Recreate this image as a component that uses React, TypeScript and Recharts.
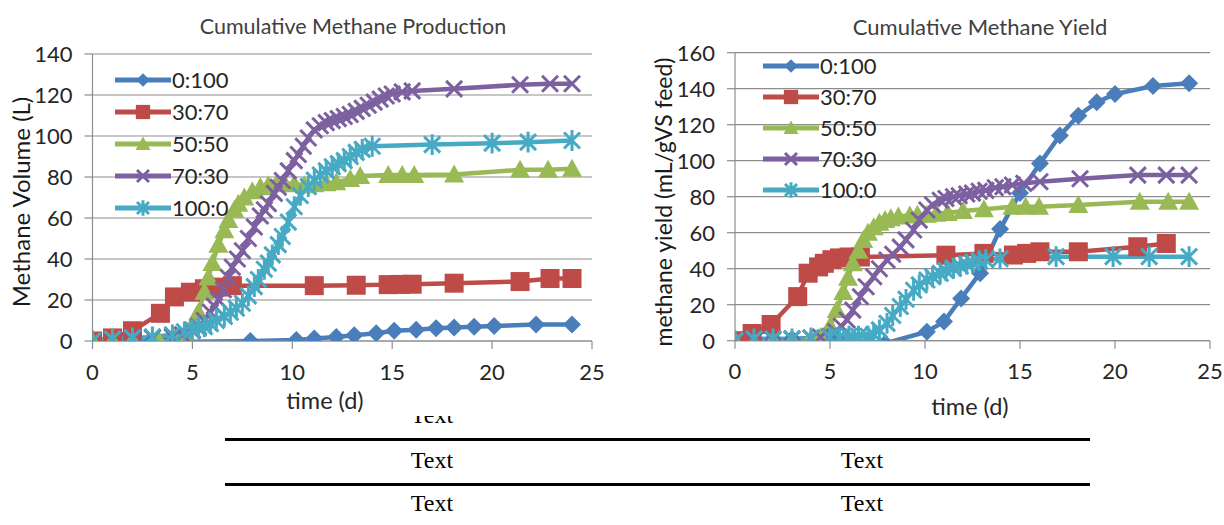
import React from 'react';
import { LineChart, Line, XAxis, YAxis, CartesianGrid, Legend } from 'recharts';

// ---------- shared labels ----------
const seriesNames = ['0:100', '30:70', '50:50', '70:30', '100:0'];
const seriesColors = ['#4A7EBB', '#BE4B48', '#98B954', '#7D60A0', '#46AAC5'];
const seriesShapes = ['diamond', 'square', 'triangle', 'cross', 'star'];
const xTicks = [0, 5, 10, 15, 20, 25];
const volTicks = [0, 20, 40, 60, 80, 100, 120, 140];
const yieldTicks = [0, 20, 40, 60, 80, 100, 120, 140, 160];
const tableRows = [['Text', ''], ['Text', 'Text'], ['Text', 'Text']];

// ---------- Cumulative Methane Production (L) ----------
const vol0_100_d = [0, 1, 2, 3, 4.1, 7.9, 10.2, 11.1, 12.2, 13.1, 14.2, 15.1, 16.2, 17.2, 18.1, 19.1, 20.1, 22.2, 24];
const vol0_100_v = [0, 0, 0, 0, -0.5, 0, 0.5, 1.2, 2, 2.8, 3.8, 5, 5.5, 6.2, 6.6, 7, 7.3, 8.1, 8.1];
const vol30_70_d = [0, 1, 2, 3.4, 4.1, 4.9, 5.6, 6.3, 7.0, 11.1, 13.2, 14.8, 15.4, 16.0, 18.1, 21.4, 22.9, 24];
const vol30_70_v = [0, 1.5, 5, 13.5, 21.5, 23.8, 25.5, 26.3, 27, 27, 27.2, 27.5, 27.6, 27.7, 28.2, 29, 30.5, 30.5];
const vol50_50_d = [0, 1, 2, 3.3, 4.1, 4.6, 5.0, 5.3, 5.6, 5.8, 6.0, 6.3, 6.6, 6.8, 7.1, 7.3, 7.6, 8.0, 8.4, 8.8, 9.2, 9.6, 10.1, 10.6, 11.1, 11.7, 12.2, 12.9, 13.4, 14.8, 15.5, 16.1, 18.1, 21.4, 22.8, 24];
const vol50_50_v = [0, 0, 0.2, 0.5, 1, 3, 8, 14, 24, 31, 38, 47, 54, 59, 64, 67, 70, 73, 75, 76, 76.5, 77, 76.5, 76, 76.5, 77, 77.5, 79, 80.5, 81, 81, 81, 81.2, 83.5, 83.5, 84];
const vol70_30_d = [0, 1, 2, 3, 4, 4.5, 5.0, 5.3, 5.6, 5.9, 6.1, 6.3, 6.55, 6.8, 7.0, 7.25, 7.5, 7.8, 8.1, 8.4, 8.6, 8.8, 9.1, 9.3, 9.5, 9.8, 10.1, 10.3, 10.55, 10.8, 11.1, 11.4, 11.7, 12.0, 12.3, 12.6, 12.9, 13.2, 13.5, 13.8, 14.1, 14.4, 14.7, 15.0, 15.5, 16.0, 18.1, 21.4, 22.9, 24];
const vol70_30_v = [0, 0.5, 1, 1.5, 2, 3, 5, 7, 10, 14, 17, 20, 25, 31, 36, 40, 44, 50, 55.6, 61, 64, 67, 72, 75, 78.3, 83, 88, 91, 95, 99, 103, 105, 106.5, 107.5, 108.5, 109.5, 110.5, 112, 113.5, 115, 116.5, 118, 119.5, 120.5, 121.5, 122, 123, 125, 125.5, 125.5];
const vol100_0_d = [0, 1, 2, 3, 4, 4.6, 5.0, 5.3, 5.6, 5.9, 6.2, 6.6, 6.9, 7.2, 7.5, 7.8, 8.1, 8.3, 8.6, 8.8, 9.0, 9.3, 9.5, 9.8, 10.1, 10.4, 10.8, 11.1, 11.4, 11.7, 12.0, 12.3, 12.6, 12.9, 13.2, 13.5, 14.0, 17.0, 20.0, 21.8, 24];
const vol100_0_v = [0, 1, 1.5, 2, 3, 4.5, 5.5, 6.3, 7, 8.5, 10, 12, 14, 16, 18.4, 22, 26.5, 30, 35, 38, 42, 47, 51, 58, 65.5, 71, 75.3, 78.5, 81, 83, 85, 86.5, 88, 90, 92, 93.5, 95, 95.8, 96.5, 97, 97.8];

// ---------- Cumulative Methane Yield (mL/gVS feed) ----------
const yld0_100_d = [0, 1, 2, 3, 4.1, 5, 7.9, 10.1, 11.0, 11.9, 12.9, 13.95, 15.0, 16.05, 17.1, 18.07, 19.04, 20.0, 22.0, 23.9];
const yld0_100_v = [0, 1, 1, 1, -3, 1, -1.5, 5, 10.6, 23.5, 37.5, 62, 82, 98.5, 114, 125, 132.5, 137, 141.5, 143];
const yld30_70_d = [0, 0.9, 1.9, 3.3, 3.85, 4.4, 4.7, 5.1, 5.5, 6.0, 6.6, 11.1, 13.1, 14.65, 15.35, 16.05, 18.07, 21.2, 22.7];
const yld30_70_v = [0, 4, 9, 24.5, 37.5, 41, 43, 45, 46, 46.5, 46.5, 47.5, 48.5, 47.6, 48.5, 49.4, 49.4, 52.2, 54];
const yld50_50_d = [0, 1, 2, 3, 4, 4.5, 5.0, 5.35, 5.7, 5.95, 6.2, 6.5, 6.75, 7.0, 7.3, 7.6, 7.9, 8.2, 8.6, 9.2, 9.6, 10.1, 10.6, 11.2, 12.0, 13.1, 14.6, 15.3, 16.0, 18.07, 21.3, 22.8, 23.9];
const yld50_50_v = [0, -1, 0, 0, 1, 2, 8, 17, 27, 35, 43, 50, 56, 60, 63, 65.5, 67, 68, 69, 69.5, 70, 70, 70.5, 71, 72, 73, 74.4, 74.4, 74.4, 75.4, 77.2, 77.2, 77.2];
const yld70_30_d = [0, 1, 2, 3, 4, 4.5, 5.0, 5.3, 5.6, 5.9, 6.2, 6.6, 6.9, 7.3, 7.6, 8.0, 8.3, 8.7, 9.0, 9.4, 9.7, 10.1, 10.4, 10.8, 11.1, 11.5, 11.8, 12.2, 12.5, 12.85, 13.2, 13.7, 14.1, 14.6, 15.2, 16.05, 18.16, 21.2, 22.7, 23.9];
const yld70_30_v = [0, 0, 0.5, 1, 1.5, 2, 2.5, 5, 8, 11.5, 17, 24.4, 30, 35.5, 40, 44.8, 48, 52, 56, 61.5, 67, 72.6, 75.5, 78, 79, 80, 80.5, 81.5, 82, 83, 83.5, 85, 85.5, 86.5, 87.4, 88.3, 90, 92, 92, 92];
const yld100_0_d = [0, 1, 2, 3, 4, 5, 5.5, 6.0, 6.5, 7.0, 7.3, 7.6, 8.0, 8.3, 8.7, 9.0, 9.4, 9.7, 10.1, 10.4, 10.8, 11.1, 11.5, 11.85, 12.2, 12.5, 12.85, 13.2, 13.95, 16.9, 19.9, 21.8, 23.9];
const yld100_0_v = [0, 1, 1, 1, 1.5, 2, 2, 2.5, 2.5, 2.5, 3.5, 6, 9.6, 14, 19, 23, 28, 31, 33.7, 35.5, 37.4, 39, 40.2, 41.5, 42.5, 43.5, 44.5, 45, 45.5, 46.7, 46.7, 46.7, 46.7];

const zip = (d: number[], v: number[]) => d.map((x, i) => ({ d: x, v: v[i] }));
const volData = [
  zip(vol0_100_d, vol0_100_v),
  zip(vol30_70_d, vol30_70_v),
  zip(vol50_50_d, vol50_50_v),
  zip(vol70_30_d, vol70_30_v),
  zip(vol100_0_d, vol100_0_v),
];
const yldData = [
  zip(yld0_100_d, yld0_100_v),
  zip(yld30_70_d, yld30_70_v),
  zip(yld50_50_d, yld50_50_v),
  zip(yld70_30_d, yld70_30_v),
  zip(yld100_0_d, yld100_0_v),
];

const FONT = 'Lato, "Open Sans", sans-serif';
const GRID = '#8E8E8E';

function Marker({ shape, cx, cy, color, s = 1 }: any) {
  if (cx == null || cy == null || isNaN(cx) || isNaN(cy)) return null;
  if (shape === 'diamond') {
    const r = 9 * s;
    return <polygon points={`${cx},${cy - r} ${cx + r},${cy} ${cx},${cy + r} ${cx - r},${cy}`} fill={color} />;
  }
  if (shape === 'square') {
    const h = 9.5 * s;
    return <rect x={cx - h} y={cy - h} width={2 * h} height={2 * h} fill={color} />;
  }
  if (shape === 'triangle') {
    const r = 10 * s;
    return <polygon points={`${cx},${cy - r} ${cx + r},${cy + r * 0.8} ${cx - r},${cy + r * 0.8}`} fill={color} />;
  }
  const r = 8 * s;
  let d = `M${cx - r},${cy - r}L${cx + r},${cy + r}M${cx + r},${cy - r}L${cx - r},${cy + r}`;
  if (shape === 'star') d += `M${cx},${cy - r * 1.3}L${cx},${cy + r * 1.3}`;
  return <path d={d} stroke={color} strokeWidth={3} fill="none" />;
}

const makeDot = (i: number) => (p: any) => (
  <Marker key={`dot-${i}-${p.index}`} shape={seriesShapes[i]} cx={p.cx} cy={p.cy} color={seriesColors[i]} />
);

const renderLegend = (spacing: number) => (props: any) => {
  const payload = [...(props.payload || [])].sort(
    (a: any, b: any) => seriesNames.indexOf(a.value) - seriesNames.indexOf(b.value)
  );
  return (
    <svg width={150} height={spacing * 5 + 10} style={{ display: 'block', overflow: 'visible' }}>
      {payload.map((e: any, k: number) => {
        const idx = seriesNames.indexOf(e.value);
        const y = 14 + k * spacing;
        return (
          <g key={k}>
            <line x1={2} x2={58} y1={y} y2={y} stroke={e.color} strokeWidth={5} />
            <Marker shape={seriesShapes[idx]} cx={30} cy={y} color={e.color} s={0.75} />
            <text x={59} y={y} dy="0.36em" fontSize={22} fontFamily={FONT} fill="#262626">{e.value}</text>
          </g>
        );
      })}
    </svg>
  );
};

function Chart({ data, ticks, max, width, height, margin, yWidth, xHeight, legendPos, spacing }: any) {
  return (
    <LineChart width={width} height={height} margin={margin} style={{ background: '#fff' }}>
      <CartesianGrid vertical={false} stroke={GRID} strokeWidth={1.2} />
      <XAxis
        type="number"
        dataKey="d"
        domain={[0, 25]}
        ticks={xTicks}
        interval={0}
        allowDataOverflow
        height={xHeight}
        tickSize={8}
        tickMargin={15}
        axisLine={{ stroke: GRID, strokeWidth: 1.2 }}
        tickLine={{ stroke: GRID, strokeWidth: 1.2 }}
        tick={{ fontSize: 22, fill: '#262626', fontFamily: FONT }}
      />
      <YAxis
        type="number"
        domain={[0, max]}
        ticks={ticks}
        interval={0}
        allowDataOverflow
        width={yWidth}
        tickSize={8}
        tickMargin={12}
        axisLine={{ stroke: GRID, strokeWidth: 1.2 }}
        tickLine={{ stroke: GRID, strokeWidth: 1.2 }}
        tick={{ fontSize: 22, fill: '#262626', fontFamily: FONT }}
      />
      <Legend
        layout="vertical"
        align="center"
        verticalAlign="middle"
        content={renderLegend(spacing)}
        wrapperStyle={{ position: 'absolute', left: legendPos[0], top: legendPos[1], width: 150, height: 170 }}
      />
      {data.map((series: any, i: number) => (
        <Line
          key={seriesNames[i]}
          data={series}
          dataKey="v"
          name={seriesNames[i]}
          stroke={seriesColors[i]}
          strokeWidth={4.5}
          dot={makeDot(i)}
          activeDot={false}
          isAnimationActive={false}
          legendType="line"
        />
      ))}
    </LineChart>
  );
}

const abs = (x: number, y: number, extra: any = {}) => ({
  position: 'absolute' as const,
  left: x,
  top: y,
  transform: 'translate(-50%, -50%)',
  whiteSpace: 'nowrap' as const,
  fontFamily: FONT,
  ...extra,
});

export default function App() {
  return (
    <div style={{ position: 'absolute', left: 0, top: 0, width: 1224, height: 525, background: '#fff', overflow: 'hidden' }}>
      {/* table underneath */}
      <div style={{ position: 'absolute', left: 225, top: 438, width: 865, height: 3, background: '#000' }} />
      <div style={{ position: 'absolute', left: 225, top: 483, width: 865, height: 3, background: '#000' }} />
      {tableRows.map((row, r) =>
        row.map((t, c) => (
          <div
            key={`${r}-${c}`}
            style={{
              position: 'absolute',
              left: c === 0 ? 332 : 762,
              width: 200,
              textAlign: 'center',
              top: [403, 448, 491][r],
              fontFamily: '"Liberation Serif", "Times New Roman", serif',
              fontSize: 24,
              lineHeight: '24px',
              color: '#000',
            }}
          >
            {t}
          </div>
        ))
      )}

      {/* left chart */}
      <div style={{ position: 'absolute', left: 0, top: 0, width: 610, height: 416, background: '#fff' }}>
        <Chart
          data={volData}
          ticks={volTicks}
          max={140}
          width={610}
          height={416}
          margin={{ top: 54, right: 18, bottom: 0, left: 0 }}
          yWidth={92.5}
          xHeight={75}
          legendPos={[113, 66]}
          spacing={32}
        />
        <div style={abs(353, 26, { fontSize: 21.5, color: '#404040' })}>Cumulative Methane Production</div>
        <div style={abs(325, 400, { fontSize: 23.5, color: '#262626' })}>time (d)</div>
        <div style={abs(20, 202, { fontSize: 24, color: '#1a1a1a', transform: 'translate(-50%, -50%) rotate(-90deg)' })}>
          Methane Volume (L)
        </div>
      </div>

      {/* right chart */}
      <div style={{ position: 'absolute', left: 610, top: 0, width: 614, height: 432, background: '#fff' }}>
        <Chart
          data={yldData}
          ticks={yieldTicks}
          max={160}
          width={614}
          height={432}
          margin={{ top: 52.7, right: 14, bottom: 0, left: 0 }}
          yWidth={125}
          xHeight={91.3}
          legendPos={[151, 52]}
          spacing={31}
        />
        <div style={abs(370, 26, { fontSize: 22, color: '#404040' })}>Cumulative Methane Yield</div>
        <div style={abs(360, 406, { fontSize: 23.5, color: '#262626' })}>time (d)</div>
        <div style={abs(53, 202, { fontSize: 23, color: '#1a1a1a', transform: 'translate(-50%, -50%) rotate(-90deg)' })}>
          methane yield (mL/gVS feed)
        </div>
      </div>
    </div>
  );
}
